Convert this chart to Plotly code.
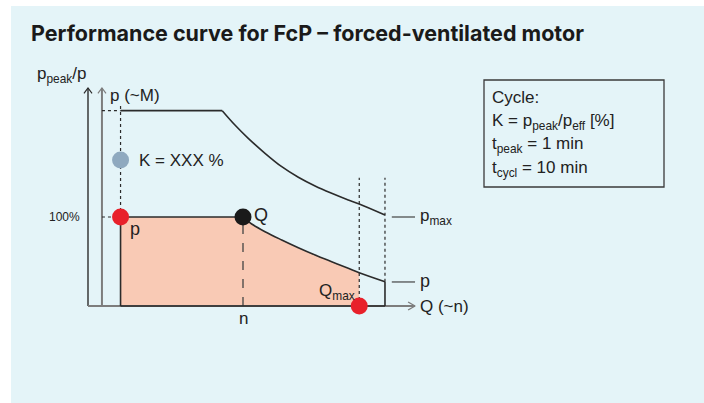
import plotly.graph_objects as go

W, H = 704, 403
# data units: x in % of rated speed n (0 = outer axis), y in % of rated power
PX0, PXS = 88, 1.55   # pixel of x=0, px per unit
PY0, PYS = 306, 0.89  # pixel of y=0, px per unit

# ---- data ----
x_min_speed = 21
x_corner = 86.6
x_n = 100
x_qmax = 175
x_end = 191.6
x_paxis = 9
axis_top = 245
axis_right = 211
peak_level = 219.5

peak_x = [86.6, 94.8, 103.4, 114.2, 125.0, 135.7, 146.5, 157.2, 167.9, 175.0, 191.6]
peak_y = [219.5, 203.4, 188.4, 171.6, 156.5, 144.6, 134.8, 126.6, 119.1, 114.6, 102.2]

cont_x = [100, 105.6, 114.2, 125.0, 135.7, 146.5, 157.2, 167.9, 175.0, 191.6]
cont_y = [100, 92.1, 83.5, 74.2, 65.5, 57.3, 49.8, 42.4, 37.4, 27.3]

k_point_y = 164

# ---- axes ranges from pixel geometry ----
xr = [(0 - PX0) / PXS, (W - PX0) / PXS]
yr = [(PY0 - H) / PYS, PY0 / PYS]

fig = go.Figure()

DARK = "#2b2b2b"
GRAY = "#7d7d7d"
FILL = "#F9CAB5"

def line(xs, ys, color=DARK, width=1.5, dash=None, shape="linear"):
    fig.add_trace(go.Scatter(x=xs, y=ys, mode="lines",
                             line=dict(color=color, width=width, dash=dash, shape=shape),
                             hoverinfo="skip", showlegend=False))

# fill polygon
fx = [x_min_speed, x_min_speed] + [v for v in cont_x if v <= x_qmax] + [x_qmax]
fy = [0, 100] + [cont_y[i] for i, v in enumerate(cont_x) if v <= x_qmax] + [0]
fig.add_trace(go.Scatter(x=fx, y=fy, mode="lines", fill="toself", fillcolor=FILL,
                         line=dict(width=0), hoverinfo="skip", showlegend=False))

# axes
line([0, 0], [0, axis_top], DARK, 1.4)
line([x_paxis, x_paxis], [0, axis_top], GRAY, 2)
line([0, axis_right], [0, 0], GRAY, 2)
# arrowheads
ah_x, ah_y = 2.6, 6
for xa in (0, x_paxis):
    line([xa - ah_x, xa, xa + ah_x], [axis_top - ah_y, axis_top, axis_top - ah_y],
         DARK if xa == 0 else GRAY, 1.2)
line([axis_right - 4.5, axis_right, axis_right - 4.5], [4.5, 0, -4.5], GRAY, 1.4)

# dotted guides
line([x_paxis, x_min_speed], [peak_level, peak_level], DARK, 1.2, "dot")
line([x_paxis, x_min_speed], [100, 100], DARK, 1.2, "dot")
line([x_min_speed, x_min_speed], [100, 226], DARK, 1.2, "dot")
line([x_qmax, x_qmax], [0, 144], DARK, 1.2, "dot")
line([x_end, x_end], [cont_y[-1], 144], DARK, 1.2, "dot")
line([x_n, x_n], [0, 100], "#444444", 1.3, "dash")

# main curves
line([x_min_speed, x_corner], [peak_level, peak_level], DARK, 1.6)
line(peak_x, peak_y, DARK, 1.6, shape="spline")
line([x_min_speed, x_min_speed, x_n], [0, 100, 100], DARK, 1.6)
line(cont_x, cont_y, DARK, 1.6, shape="spline")
line([cont_x[-1], cont_x[-1]], [cont_y[-1], 0], DARK, 1.6)
line([x_min_speed, x_end], [0, 0], DARK, 1.6)

# leader lines
line([196, 211], [100, 100], "#444444", 1.2)
line([196, 211], [27, 27], "#444444", 1.2)

# points
fig.add_trace(go.Scatter(x=[x_min_speed], y=[k_point_y], mode="markers",
                         marker=dict(size=17, color="#8FA9BF"), hoverinfo="skip", showlegend=False))
fig.add_trace(go.Scatter(x=[x_min_speed, x_qmax], y=[100, 0], mode="markers",
                         marker=dict(size=17, color="#E8202A"), hoverinfo="skip", showlegend=False))
fig.add_trace(go.Scatter(x=[x_n], y=[100], mode="markers",
                         marker=dict(size=17, color="#1a1a1a"), hoverinfo="skip", showlegend=False))

FONT = "Liberation Sans, Arial, sans-serif"
TC = "#222222"

def txt(x, y, s, size=17, xanchor="left", yanchor="middle", xref="x", yref="y"):
    fig.add_annotation(x=x, y=y, text=s, showarrow=False, xref=xref, yref=yref,
                       xanchor=xanchor, yanchor=yanchor,
                       font=dict(family=FONT, size=size, color=TC))

txt(-17.4, 259.6, "p<sub>peak</sub>/p", 17, "center")
txt(12.9, 237, "p (~M)", 17)
txt(31.6, 164, "K = XXX %", 17)
txt(-3.9, 100, "100%", 12, "right")
txt(25.8, 86, "p", 18)
txt(105.5, 102, "Q", 18)
txt(x_n, -13.5, "n", 17, "center")
txt(160.6, 15.5, "Q<sub>max</sub>", 17, "center")
txt(213, 100, "p<sub>max</sub>", 17)
txt(213, 28, "p", 18)
txt(213, 0, "Q (~n)", 17)

# panel background
fig.add_shape(type="rect", xref="paper", yref="paper", x0=11 / W, x1=1, y0=0, y1=1 - 6 / H,
              fillcolor="#E4F4F8", line=dict(width=0), layer="below")
# info box
fig.add_shape(type="rect", xref="paper", yref="paper",
              x0=484 / W, x1=664 / W, y0=1 - 187 / H, y1=1 - 80 / H,
              fillcolor="rgba(0,0,0,0)", line=dict(color="#3a3a3a", width=1.3))
box_lines = ["Cycle:", "K = p<sub>peak</sub>/p<sub>eff</sub> [%]",
             "t<sub>peak</sub> = 1 min", "t<sub>cycl</sub> = 10 min"]
for i, s in enumerate(box_lines):
    txt(490 / W, 1 - (98 + 23.5 * i) / H, s, 17, "left", "middle", "paper", "paper")

# title
fig.add_annotation(x=29 / W, y=1 - 33 / H, xref="paper", yref="paper", showarrow=False,
                   text="<b>Performance curve for FcP – forced-ventilated motor</b>",
                   xanchor="left", yanchor="middle",
                   font=dict(family="Inter, Liberation Sans, sans-serif", size=21.5,
                             color="#1a1a1a", weight=900))

fig.update_layout(width=W, height=H, margin=dict(l=0, r=0, t=0, b=0),
                  paper_bgcolor="white", plot_bgcolor="rgba(0,0,0,0)",
                  xaxis=dict(range=xr, visible=False, fixedrange=True, domain=[0, 1]),
                  yaxis=dict(range=yr, visible=False, fixedrange=True, domain=[0, 1]),
                  showlegend=False)

fig.write_html("out.html", config={"displayModeBar": False},
               post_script="document.body.style.margin='0';document.body.style.overflow='hidden';")
